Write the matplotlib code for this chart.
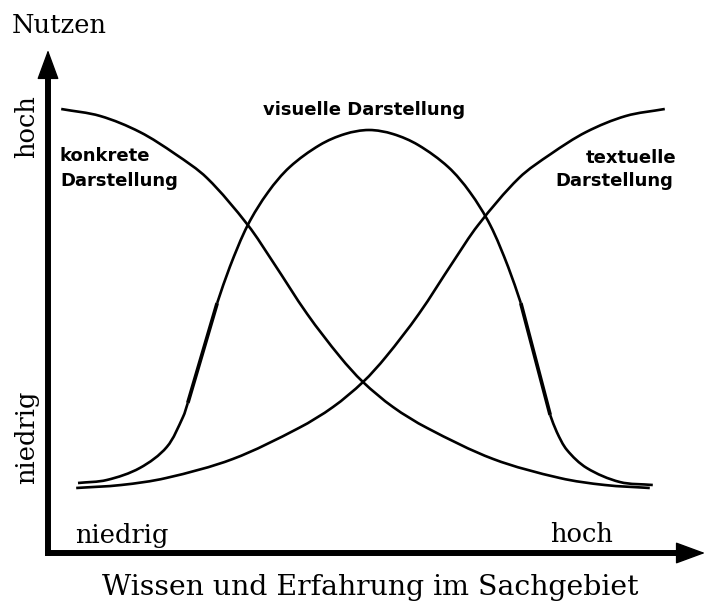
import matplotlib
matplotlib.use("Agg")
import numpy as np
import matplotlib.pyplot as plt
from matplotlib.path import Path
from matplotlib.patches import PathPatch

# Wissen (x) und Nutzen (y); Achsenursprung = (0, 0)
konkret_x = [2.2, 8.7, 15.3, 21.2, 26.5, 33.3, 37.5, 43.2, 48.7, 52.5, 57.5, 63.2,
             74.2, 85.3, 92.8, 100.3]
konkret_y = [88.8, 87.4, 84.2, 79.8, 75.0, 65.6, 58.2, 47.8, 39.2, 34.2, 29.2, 25.0,
             18.8, 15.0, 13.6, 13.0]

textuell_x = [4.7, 12.2, 19.7, 30.8, 41.8, 47.5, 52.5, 56.3, 61.8, 67.5, 71.7, 78.5,
              83.8, 89.7, 96.3, 102.8]
textuell_y = [13.0, 13.6, 15.0, 18.8, 25.0, 29.2, 34.2, 39.2, 47.8, 58.2, 65.6, 75.0,
              79.8, 84.2, 87.4, 88.8]

# visuelle Kurve in Stuecken (die steilen Abschnitte sind dicker gezeichnet)
visuell_links_x = [5.0, 9.8, 15.3, 19.8, 22.5, 23.3]
visuell_links_y = [14.0, 14.6, 17.0, 21.2, 27.2, 30.0]
visuell_steil1_x = [23.3, 28.2]
visuell_steil1_y = [30.0, 50.0]
visuell_mitte_x = [28.2, 30.3, 33.3, 36.7, 40.3, 45.3, 49.5, 53.5, 57.5, 61.7, 66.7,
                   70.3, 73.7, 76.7, 78.8]
visuell_mitte_y = [50.0, 57.2, 65.6, 72.2, 77.2, 81.6, 83.8, 84.6, 83.8, 81.6, 77.2,
                   72.2, 65.6, 57.2, 50.0]
visuell_steil2_x = [78.8, 83.7]
visuell_steil2_y = [50.0, 27.6]
visuell_rechts_x = [83.7, 84.8, 86.5, 89.8, 95.3, 100.8]
visuell_rechts_y = [27.6, 24.2, 20.6, 17.0, 14.2, 13.6]

serif = "DejaVu Serif"
sans = "DejaVu Sans"


def smooth_curve(ax, xs, ys, lw):
    # Catmull-Rom (Sehnenlaengen-Parameter) durch die Punkte, als Bezier-Pfad
    p = np.column_stack([xs, ys]).astype(float)
    d = np.hypot(np.diff(p[:, 0]) * 6, np.diff(p[:, 1]) * 5)
    t = np.concatenate([[0], np.cumsum(d)])
    n = len(p)
    m = np.zeros_like(p)
    m[0] = (p[1] - p[0]) / (t[1] - t[0])
    m[-1] = (p[-1] - p[-2]) / (t[-1] - t[-2])
    for i in range(1, n - 1):
        m[i] = (p[i + 1] - p[i - 1]) / (t[i + 1] - t[i - 1])
    verts = [p[0]]
    codes = [Path.MOVETO]
    for i in range(n - 1):
        h = t[i + 1] - t[i]
        verts += [p[i] + m[i] * h / 3, p[i + 1] - m[i + 1] * h / 3, p[i + 1]]
        codes += [Path.CURVE4] * 3
    ax.add_patch(PathPatch(Path(verts, codes), fill=False, edgecolor="black", lw=lw,
                           capstyle="butt"))


fig = plt.figure(figsize=(7.06, 6.01), dpi=100)
ax = fig.add_axes([0, 0, 1, 1])
ax.set_xlim(-8, 109.67)
ax.set_ylim(-9.6, 110.6)
ax.axis("off")

# Achsen mit Pfeilspitzen
ax.plot([0, 0], [0, 96], color="black", lw=4.3, solid_capstyle="projecting")
ax.plot([0, 106], [0, 0], color="black", lw=4.3, solid_capstyle="projecting")
head = "-|>,head_length=1.9,head_width=0.7"
ax.annotate("", xy=(0, 100.6), xytext=(0, 94),
            arrowprops=dict(arrowstyle=head, color="black", lw=1, shrinkA=0, shrinkB=0))
ax.annotate("", xy=(109.5, 0), xytext=(104, 0), annotation_clip=False,
            arrowprops=dict(arrowstyle=head, color="black", lw=1, shrinkA=0, shrinkB=0))

lw = 1.9
smooth_curve(ax, konkret_x, konkret_y, lw)
smooth_curve(ax, textuell_x, textuell_y, lw)
smooth_curve(ax, visuell_links_x, visuell_links_y, lw)
ax.plot(visuell_steil1_x, visuell_steil1_y, color="black", lw=2.7, solid_capstyle="butt")
smooth_curve(ax, visuell_mitte_x, visuell_mitte_y, lw)
ax.plot(visuell_steil2_x, visuell_steil2_y, color="black", lw=2.7, solid_capstyle="butt")
smooth_curve(ax, visuell_rechts_x, visuell_rechts_y, lw)

# Kurvenbeschriftungen
fs_b = 13
ax.text(2.0, 78.4, "konkrete", family=sans, weight="bold", fontsize=fs_b, va="baseline")
ax.text(2.0, 73.4, "Darstellung", family=sans, weight="bold", fontsize=fs_b, va="baseline")
ax.text(35.8, 87.6, "visuelle Darstellung", family=sans, weight="bold", fontsize=fs_b,
        va="baseline")
ax.text(104.8, 78.0, "textuelle", family=sans, weight="bold", fontsize=fs_b,
        va="baseline", ha="right")
ax.text(104.2, 73.4, "Darstellung", family=sans, weight="bold", fontsize=fs_b,
        va="baseline", ha="right")

# Achsenbeschriftungen
fs = 18.5
ax.text(-6.0, 104.0, "Nutzen", family=serif, fontsize=fs, va="baseline")
ax.text(-3.6, 85.2, "hoch", family=serif, fontsize=fs, rotation=90, ha="center", va="center")
ax.text(-3.6, 23.2, "niedrig", family=serif, fontsize=fs, rotation=90, ha="center", va="center")
ax.text(4.5, 2.0, "niedrig", family=serif, fontsize=fs, va="baseline")
ax.text(83.7, 2.2, "hoch", family=serif, fontsize=fs, va="baseline")
ax.text(53.7, -8.4, "Wissen und Erfahrung im Sachgebiet", family=serif, fontsize=20.4,
        ha="center", va="baseline")

fig.savefig("out.png", dpi=100)
